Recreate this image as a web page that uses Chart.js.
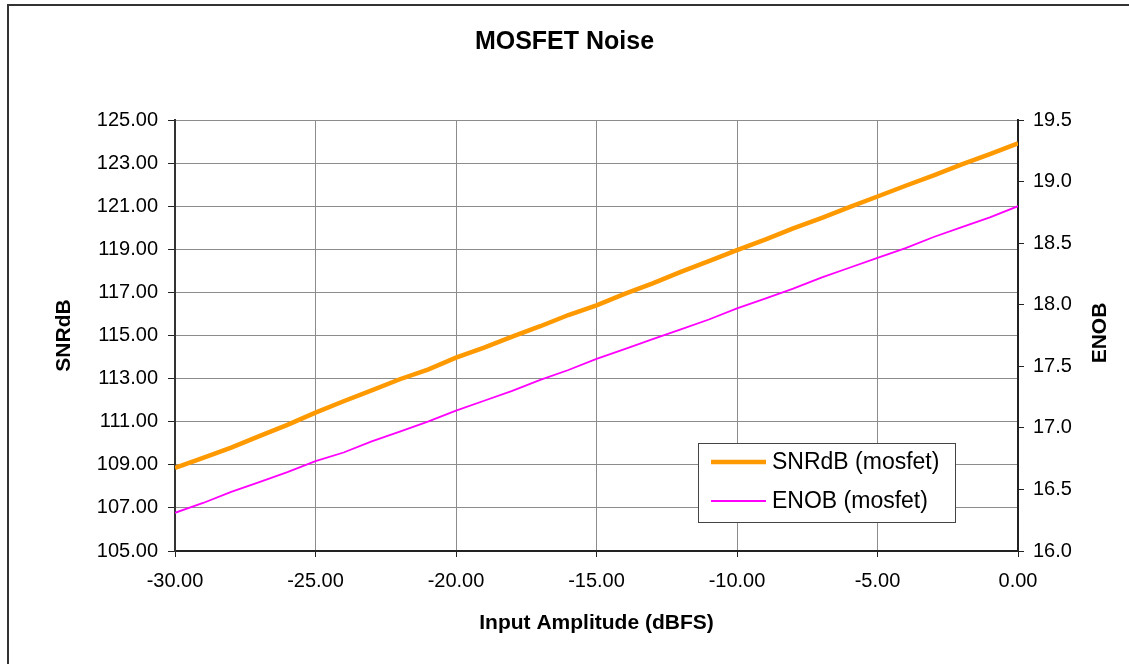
<!DOCTYPE html>
<html>
<head>
<meta charset="utf-8">
<title>MOSFET Noise</title>
<script src="https://cdn.jsdelivr.net/npm/chart.js@4/dist/chart.umd.min.js"></script>
<style>
    body { margin: 0; background: #fff; }
    #wrap { position: relative; width: 1129px; height: 664px; }
    #frame {
        position: absolute; left: 7px; top: 4px; right: -4px; bottom: -4px;
        border-left: 2px solid #333; border-top: 2px solid #333;
        pointer-events: none;
    }
</style>
</head>
<body>
<div id="wrap">
    <canvas id="noise-chart"></canvas>
    <div id="frame"></div>
</div>
<script>
// input amplitude, dBFS
const amplitude = [-30, -29, -28, -27, -26, -25, -24, -23, -22, -21, -20,
    -19, -18, -17, -16, -15, -14, -13, -12, -11, -10,
    -9, -8, -7, -6, -5, -4, -3, -2, -1, 0];

const snrDb = [108.86, 109.32, 109.80, 110.33, 110.85, 111.42, 111.95, 112.45, 112.97, 113.42, 113.97,
    114.44, 114.95, 115.43, 115.95, 116.40, 116.93, 117.42, 117.95, 118.45, 118.96,
    119.45, 119.97, 120.45, 120.96, 121.45, 121.95, 122.43, 122.94, 123.42, 123.92];

const enob = [16.31, 16.39, 16.48, 16.56, 16.64, 16.73, 16.80, 16.89, 16.97, 17.05, 17.14,
    17.22, 17.30, 17.39, 17.47, 17.56, 17.64, 17.72, 17.80, 17.88, 17.97,
    18.05, 18.13, 18.22, 18.30, 18.38, 18.46, 18.55, 18.63, 18.71, 18.80];

const seriesLabels = ['SNRdB (mosfet)', 'ENOB (mosfet)'];

const FONT = "'Liberation Sans', Arial, sans-serif";
const GRID = '#8c8c8c';
const AXIS = '#222';

// legend box inside the plot + right axis title reading bottom-to-top
const extras = {
    id: 'extras',
    afterDraw(chart) {
        const ctx = chart.ctx;
        const x = 698, y = 443, w = 257, h = 79;
        ctx.save();
        ctx.fillStyle = '#fff';
        ctx.fillRect(x, y, w, h);
        ctx.strokeStyle = '#444';
        ctx.lineWidth = 1;
        ctx.strokeRect(x + 0.5, y + 0.5, w, h);
        ctx.font = '23px ' + FONT;
        ctx.textBaseline = 'middle';
        chart.data.datasets.forEach((ds, i) => {
            const ly = y + 19 + i * 39;
            ctx.strokeStyle = ds.borderColor;
            ctx.lineWidth = ds.borderWidth;
            ctx.beginPath();
            ctx.moveTo(x + 13, ly);
            ctx.lineTo(x + 68, ly);
            ctx.stroke();
            ctx.fillStyle = '#000';
            ctx.fillText(ds.label, x + 74, ly + 1);
        });

        ctx.translate(1100, 333);
        ctx.rotate(-Math.PI / 2);
        ctx.font = 'bold 21px ' + FONT;
        ctx.textAlign = 'center';
        ctx.fillStyle = '#000';
        ctx.fillText('ENOB', 0, 0);
        ctx.restore();
    },
};

new Chart(document.getElementById('noise-chart'), {
    type: 'line',
    data: {
        datasets: [{
            label: seriesLabels[0],
            data: amplitude.map((a, i) => ({ x: a, y: snrDb[i] })),
            borderColor: '#FF9900',
            borderWidth: 4.5,
            yAxisID: 'y',
        }, {
            label: seriesLabels[1],
            data: amplitude.map((a, i) => ({ x: a, y: enob[i] })),
            borderColor: '#FF00FF',
            borderWidth: 1.8,
            yAxisID: 'y2',
        }],
    },
    options: {
        responsive: true,
        maintainAspectRatio: false,
        animation: false,
        elements: { point: { radius: 0 }, line: { tension: 0 } },
        layout: { padding: 0 },
        plugins: {
            legend: { display: false },
            tooltip: { enabled: false },
            title: {
                display: true,
                text: 'MOSFET Noise',
                color: '#000',
                font: { family: FONT, size: 25, weight: 'bold' },
                padding: { top: 27, bottom: 63 },
            },
        },
        scales: {
            x: {
                type: 'linear',
                min: -30,
                max: 0,
                afterFit(scale) { scale.height = 113; },
                grid: { color: GRID, tickColor: AXIS, tickLength: 6 },
                border: { color: AXIS, width: 2 },
                ticks: {
                    stepSize: 5,
                    color: '#000',
                    padding: 12,
                    maxRotation: 0,
                    font: { family: FONT, size: 20 },
                    callback: v => v.toFixed(2),
                },
                title: {
                    display: true,
                    text: 'Input Amplitude (dBFS)',
                    color: '#000',
                    font: { family: FONT, size: 21, weight: 'bold' },
                    padding: { top: 0, bottom: 28 },
                },
            },
            y: {
                position: 'left',
                min: 105,
                max: 125,
                afterFit(scale) { scale.width = 175; },
                grid: { color: GRID, tickColor: AXIS, tickLength: 7 },
                border: { color: '#333', width: 2 },
                ticks: {
                    stepSize: 2,
                    color: '#000',
                    padding: 10,
                    font: { family: FONT, size: 20 },
                    callback: v => v.toFixed(2),
                },
                title: {
                    display: true,
                    text: 'SNRdB',
                    color: '#000',
                    font: { family: FONT, size: 21, weight: 'bold' },
                    padding: { top: 52, bottom: 0 },
                },
            },
            y2: {
                position: 'right',
                min: 16,
                max: 19.5,
                afterFit(scale) { scale.width = 111; },
                grid: { drawOnChartArea: false, tickColor: AXIS, tickLength: 6 },
                border: { color: AXIS, width: 2 },
                ticks: {
                    stepSize: 0.5,
                    color: '#000',
                    padding: 9,
                    font: { family: FONT, size: 20 },
                    callback: v => v.toFixed(1),
                },
            },
        },
    },
    plugins: [extras],
});
</script>
</body>
</html>
